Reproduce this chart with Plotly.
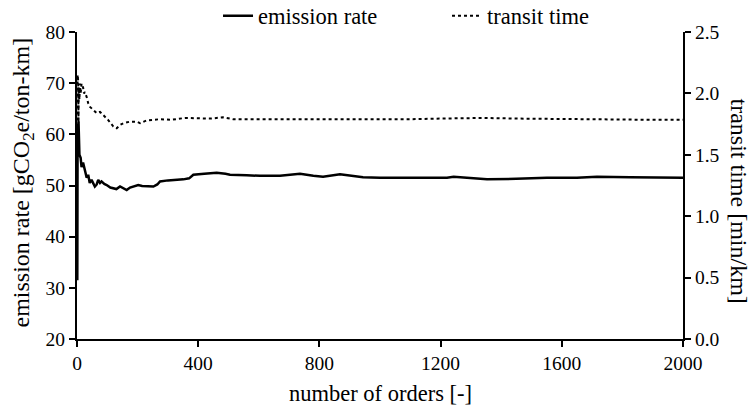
import plotly.graph_objects as go

# ---- data ----
orders_em = [1, 2, 3, 5, 8, 12, 15, 20, 26, 32, 37, 42, 48, 54, 59, 65, 70, 76, 81, 90,
             98, 110, 120, 130, 142, 153, 164, 175, 186, 202, 215, 230, 252, 265, 274, 300,
             330, 351, 370, 384, 420, 461, 490, 505, 560, 604, 670, 736, 780, 812, 868, 900,
             944, 1000, 1100, 1221, 1243, 1300, 1353, 1450, 1551, 1650, 1716, 1826, 1900, 2000]
emission = [31.5, 62.0, 58.0, 62.5, 56.0, 55.4, 53.6, 54.5, 52.7, 51.5, 52.1, 50.5, 51.1, 50.5,
            49.8, 50.2, 51.1, 50.5, 50.8, 50.3, 50.1, 49.6, 49.5, 49.3, 49.8, 49.4, 49.1, 49.6,
            49.8, 50.1, 49.9, 49.9, 49.8, 50.2, 50.8, 51.0, 51.1, 51.2, 51.4, 52.1, 52.3, 52.5,
            52.3, 52.1, 52.0, 51.9, 51.9, 52.3, 51.9, 51.7, 52.2, 52.0, 51.6, 51.5, 51.5, 51.5,
            51.7, 51.4, 51.2, 51.3, 51.5, 51.5, 51.7, 51.6, 51.5, 51.5]

orders_tt = [1, 2, 3, 4, 5, 6, 8, 10, 12, 15, 20, 23, 26, 32, 37, 43, 54, 65, 76, 87, 103,
             120, 131, 142, 153, 175, 197, 208, 230, 274, 312, 356, 406, 440, 482, 515, 593,
             700, 800, 900, 1000, 1100, 1200, 1340, 1450, 1600, 1750, 1900, 2000]
transit = [1.73, 2.15, 1.80, 2.10, 1.76, 2.05, 1.95, 2.08, 2.00, 2.08, 2.05, 2.00, 2.01, 1.97,
           1.92, 1.89, 1.865, 1.84, 1.85, 1.824, 1.783, 1.73, 1.716, 1.743, 1.757, 1.77, 1.77,
           1.757, 1.78, 1.79, 1.785, 1.80, 1.797, 1.795, 1.805, 1.79, 1.79, 1.79, 1.785, 1.79,
           1.79, 1.79, 1.795, 1.80, 1.795, 1.79, 1.79, 1.785, 1.785]

x_ticks = [0, 400, 800, 1200, 1600, 2000]
y_ticks = [20, 30, 40, 50, 60, 70, 80]
y2_ticks = [0.0, 0.5, 1.0, 1.5, 2.0, 2.5]

FONT = "Liberation Serif"

fig = go.Figure()
fig.add_trace(go.Scatter(x=orders_em, y=emission, mode="lines", name="emission rate",
                         line=dict(color="black", width=2.5), yaxis="y"))
fig.add_trace(go.Scatter(x=orders_tt, y=transit, mode="lines", name="transit time",
                         line=dict(color="black", width=2, dash="dot"), yaxis="y2"))

axis_common = dict(showgrid=False, zeroline=False, showline=True, linecolor="black",
                   linewidth=2, ticks="outside", ticklen=6, tickwidth=2, tickcolor="black",
                   tickfont=dict(family=FONT, size=19.5, color="black"))

fig.update_layout(
    width=754, height=407,
    margin=dict(l=77, r=71, t=32, b=68, autoexpand=False),
    paper_bgcolor="white", plot_bgcolor="white",
    font=dict(family=FONT, color="black"),
    xaxis=dict(range=[0, 2000], tickvals=x_ticks, **axis_common),
    yaxis=dict(range=[20, 80], tickvals=y_ticks, **axis_common),
    yaxis2=dict(range=[0, 2.5], tickvals=y2_ticks, tickformat=".1f", overlaying="y",
                side="right", **axis_common),
    showlegend=True,
    legend=dict(orientation="h", x=0.2327, xanchor="left", y=1.052, yanchor="middle",
                entrywidth=184, entrywidthmode="pixels",
                font=dict(family=FONT, size=22.5, color="black"), bgcolor="rgba(0,0,0,0)"),
    annotations=[
        dict(text="emission rate [gCO<sub>2</sub>e/ton-km]", xref="paper", yref="paper",
             x=-0.089, y=0.51, xanchor="center", yanchor="middle", textangle=-90,
             showarrow=False, font=dict(family=FONT, size=24, color="black")),
        dict(text="transit time [min/km]", xref="paper", yref="paper",
             x=1.093, y=0.45, xanchor="center", yanchor="middle", textangle=90,
             showarrow=False, font=dict(family=FONT, size=24, color="black")),
        dict(text="number of orders [-]", xref="paper", yref="paper",
             x=0.5, y=-0.176, xanchor="center", yanchor="middle",
             showarrow=False, font=dict(family=FONT, size=22.5, color="black")),
    ],
)

fig.write_html("out.html")
